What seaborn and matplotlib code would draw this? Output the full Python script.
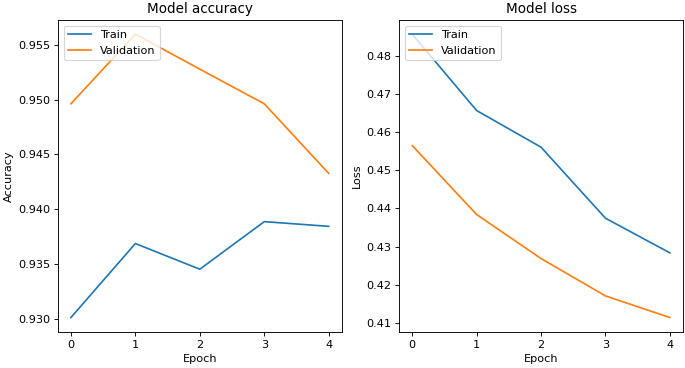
import numpy as np
import pandas as pd
import matplotlib
matplotlib.use("Agg")
import matplotlib.pyplot as plt
import seaborn as sns

epochs = [0, 1, 2, 3, 4]
train_acc = [0.93012, 0.93687, 0.93453, 0.93887, 0.93844]
val_acc = [0.94962, 0.95597, 0.95278, 0.94962, 0.94327]
train_loss = [0.4857, 0.46568, 0.45607, 0.43745, 0.42836]
val_loss = [0.4565, 0.43841, 0.42687, 0.41708, 0.4114]

colors = ["#1f77b4", "#ff7f0e"]

if __name__ == "__main__":

    # the reference is a scaled-down render, so use a lower dpi
    dpi = 81
    fig = plt.figure(figsize=(685 / dpi, 368 / dpi), dpi=dpi)
    ax1 = fig.add_axes([0.0847, 0.0986, 0.414, 0.847])
    ax2 = fig.add_axes([0.583, 0.0986, 0.4137, 0.847])

    # accuracy
    sns.lineplot(x=epochs, y=train_acc, color=colors[0], label="Train", ax=ax1)
    sns.lineplot(x=epochs, y=val_acc, color=colors[1], label="Validation", ax=ax1)
    ax1.set_title("Model accuracy", fontsize=12)
    ax1.set_xlabel("Epoch")
    ax1.set_ylabel("Accuracy")
    ax1.set_xticks(epochs)
    ax1.legend(loc="upper left")

    # loss
    sns.lineplot(x=epochs, y=train_loss, color=colors[0], label="Train", ax=ax2)
    sns.lineplot(x=epochs, y=val_loss, color=colors[1], label="Validation", ax=ax2)
    ax2.set_title("Model loss", fontsize=12)
    ax2.set_xlabel("Epoch")
    ax2.set_ylabel("Loss")
    ax2.set_xticks(epochs)
    ax2.legend(loc="upper left")

    plt.savefig("out.png", dpi=dpi)
    plt.close()
